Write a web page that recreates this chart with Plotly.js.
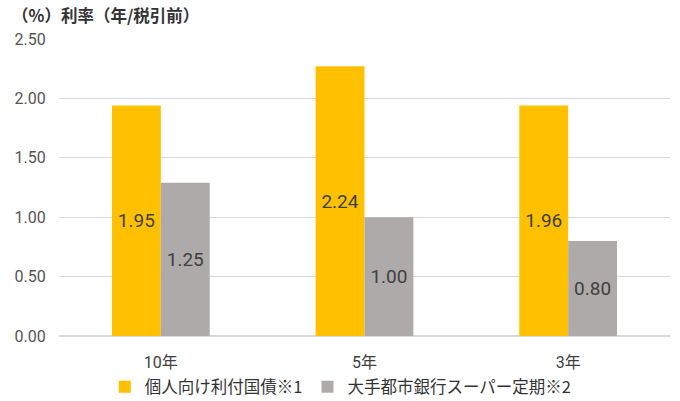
<!DOCTYPE html>
<html>
<head>
<meta charset="utf-8">
<script src="https://cdn.plot.ly/plotly-3.0.1.min.js"></script>
<style>
  html, body { margin: 0; padding: 0; background: #fff; }
  #chart { width: 680px; height: 401px; }
</style>
</head>
<body>
<div id="chart"></div>
<script>
// categories (terms)
const terms = ["10年", "5年", "3年"];

// bar heights as drawn
const bondValues = [1.94, 2.27, 1.94];
const depositValues = [1.29, 1.00, 0.80];

// labels printed on the bars
const bondLabels = ["1.95", "2.24", "1.96"];
const depositLabels = ["1.25", "1.00", "0.80"];

const seriesNames = ["個人向け利付国債※1", "大手都市銀行スーパー定期※2"];
const yTicks = [0, 0.5, 1, 1.5, 2, 2.5];
const yTickText = ["0.00", "0.50", "1.00", "1.50", "2.00", "2.50"];

const cjk = "'Noto Sans CJK JP', 'Noto Sans', sans-serif";
const font = "Roboto, 'Noto Sans CJK JP', sans-serif";

const barText = {
	family: font,
	size: 19,
	color: "#404040",
};

const data = [
	{
		type: "bar",
		name: seriesNames[0],
		x: terms,
		y: bondValues,
		text: bondLabels,
		textposition: "inside",
		insidetextanchor: "middle",
		constraintext: "none",
		textfont: barText,
		hoverinfo: "none",
		marker: { color: "#FFC000" },
	},
	{
		type: "bar",
		name: seriesNames[1],
		x: terms,
		y: depositValues,
		text: depositLabels,
		textposition: "inside",
		insidetextanchor: "middle",
		constraintext: "none",
		textfont: barText,
		hoverinfo: "none",
		marker: { color: "#AEAAAA" },
	},
];

const layout = {
	width: 680,
	height: 401,
	paper_bgcolor: "#fff",
	plot_bgcolor: "#fff",
	font: { family: font, color: "#404040" },
	margin: { l: 59, r: 10, t: 39, b: 65 },
	barmode: "group",
	bargap: 0.52,
	bargroupgap: 0,
	showlegend: true,
	legend: {
		orientation: "h",
		x: 0.075,
		xanchor: "left",
		yref: "container",
		y: 14 / 401,
		yanchor: "middle",
		font: { family: cjk, size: 16.5, color: "#333" },
		itemclick: false,
	},
	xaxis: {
		type: "category",
		showgrid: false,
		showline: false,
		zeroline: false,
		ticks: "outside",
		ticklen: 12,
		tickcolor: "rgba(0,0,0,0)",
		tickfont: { family: font, size: 16, color: "#404040" },
		fixedrange: true,
	},
	yaxis: {
		range: [0, 2.5],
		tickvals: yTicks,
		ticktext: yTickText,
		showgrid: true,
		gridcolor: "#D9D9D9",
		gridwidth: 1.3,
		zeroline: true,
		zerolinecolor: "#D9D9D9",
		zerolinewidth: 1.3,
		showline: false,
		ticks: "outside",
		ticklen: 9,
		tickcolor: "rgba(0,0,0,0)",
		tickfont: { family: font, size: 16, color: "#555" },
		fixedrange: true,
	},
	annotations: [
		{
			text: "（%）利率（年/税引前）",
			xref: "paper",
			yref: "paper",
			x: -49 / 611,
			y: 1,
			xanchor: "left",
			yanchor: "bottom",
			yshift: 10,
			showarrow: false,
			font: { family: cjk, size: 16.5, color: "#333", weight: 700 },
		},
	],
};

const config = { displayModeBar: false, staticPlot: true };

Plotly.newPlot("chart", data, layout, config);
</script>
</body>
</html>
